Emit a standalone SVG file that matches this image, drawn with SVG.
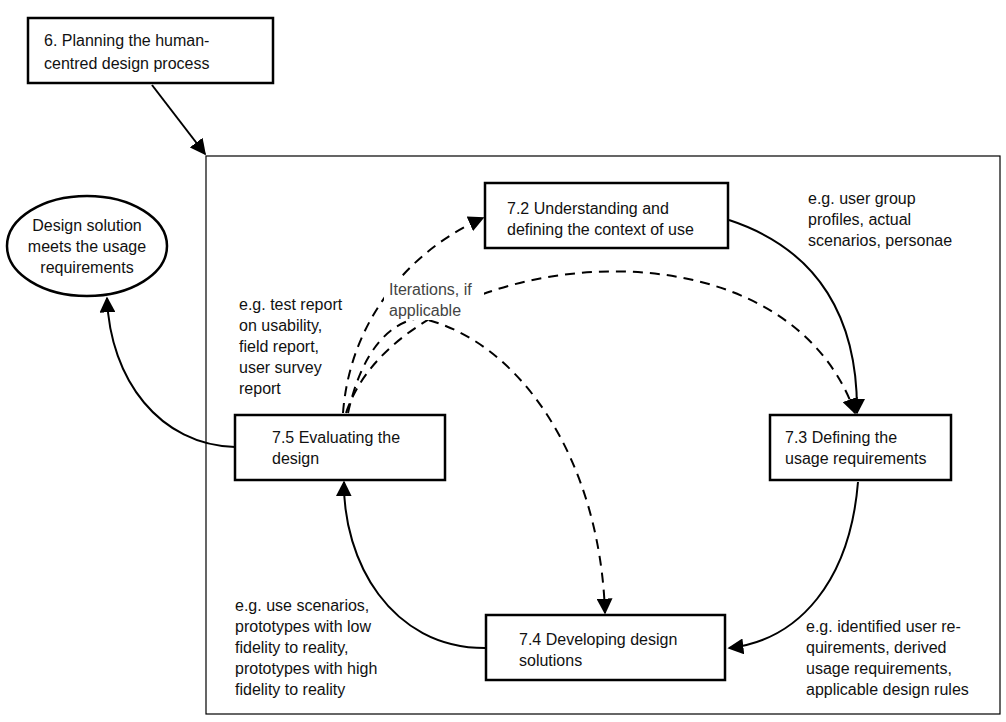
<svg xmlns="http://www.w3.org/2000/svg" width="1006" height="722" viewBox="0 0 1006 722">
<style>
text{font-family:"Liberation Sans",Arial,sans-serif;font-size:16px;fill:#111}
.b{fill:#fff;stroke:#000;stroke-width:2.5}
.c{fill:none;stroke:#000;stroke-width:2}
.d{fill:none;stroke:#000;stroke-width:2;stroke-dasharray:10 7}
</style>
<defs>
<marker id="m" viewBox="0 0 10 10" refX="9" refY="5" markerWidth="16" markerHeight="16" markerUnits="userSpaceOnUse" orient="auto"><path d="M0,0L10,5L0,10z" fill="#000"/></marker></defs>
<rect width="1006" height="722" fill="#fff"/>
<rect x="206" y="156" width="794" height="558" fill="none" stroke="#000" stroke-width="1.2"/>
<g id="connectors">
<path class="c" d="M152,85 L205,154" marker-end="url(#m)"/>
<path class="c" d="M729,220 C820,250 858,320 857,413" marker-end="url(#m)"/>
<path class="c" d="M858,482 C850,580 800,640 729,648" marker-end="url(#m)"/>
<path class="c" d="M485,648 C390,648 343,560 344,482" marker-end="url(#m)"/>
<path class="c" d="M235,447 C160,445 110,380 107,298" marker-end="url(#m)"/>
<path class="d" d="M343,413 C350,320 410,250 483,218" marker-end="url(#m)"/>
<path class="d" d="M346,413 C400,250 780,200 855,413" marker-end="url(#m)"/>
<path class="d" d="M348,413 C362,350 390,322 420,318 C520,340 600,460 605,613" marker-end="url(#m)"/>
<rect x="384" y="276" width="100" height="44" fill="#fff"/>
</g>
<g id="n6"><rect class="b" x="28" y="18" width="245" height="65"/><text x="44" y="46">6. Planning the human-</text><text x="44" y="69">centred design process</text></g>
<g id="goal"><ellipse class="b" cx="87" cy="246" rx="80" ry="50"/><text x="87" y="231" text-anchor="middle">Design solution</text><text x="87" y="252" text-anchor="middle">meets the usage</text><text x="87" y="273" text-anchor="middle">requirements</text></g>
<g id="n72"><rect class="b" x="485" y="183" width="243" height="65"/><text x="507" y="214">7.2 Understanding and</text><text x="507" y="235">defining the context of use</text></g>
<g id="n73"><rect class="b" x="770" y="415" width="181" height="65"/><text x="785" y="443">7.3 Defining the</text><text x="785" y="464">usage requirements</text></g>
<g id="n75"><rect class="b" x="235" y="415" width="210" height="65"/><text x="272" y="443">7.5 Evaluating the</text><text x="272" y="464">design</text></g>
<g id="n74"><rect class="b" x="486" y="615" width="239" height="65"/><text x="519" y="645">7.4 Developing design</text><text x="519" y="666">solutions</text></g>
<g id="labels">
<text x="808" y="204">e.g. user group</text><text x="808" y="225">profiles, actual</text><text x="808" y="246">scenarios, personae</text>
<text x="389" y="295" style="fill:#444">Iterations, if</text><text x="389" y="316" style="fill:#444">applicable</text>
<text x="239" y="310">e.g. test report</text><text x="239" y="331">on usability,</text><text x="239" y="352">field report,</text><text x="239" y="373">user survey</text><text x="239" y="394">report</text>
<text x="235" y="611">e.g. use scenarios,</text><text x="235" y="632">prototypes with low</text><text x="235" y="653">fidelity to reality,</text><text x="235" y="674">prototypes with high</text><text x="235" y="695">fidelity to reality</text>
<text x="806" y="632">e.g. identified user re-</text><text x="806" y="653">quirements, derived</text><text x="806" y="674">usage requirements,</text><text x="806" y="695">applicable design rules</text>
</g>
</svg>
